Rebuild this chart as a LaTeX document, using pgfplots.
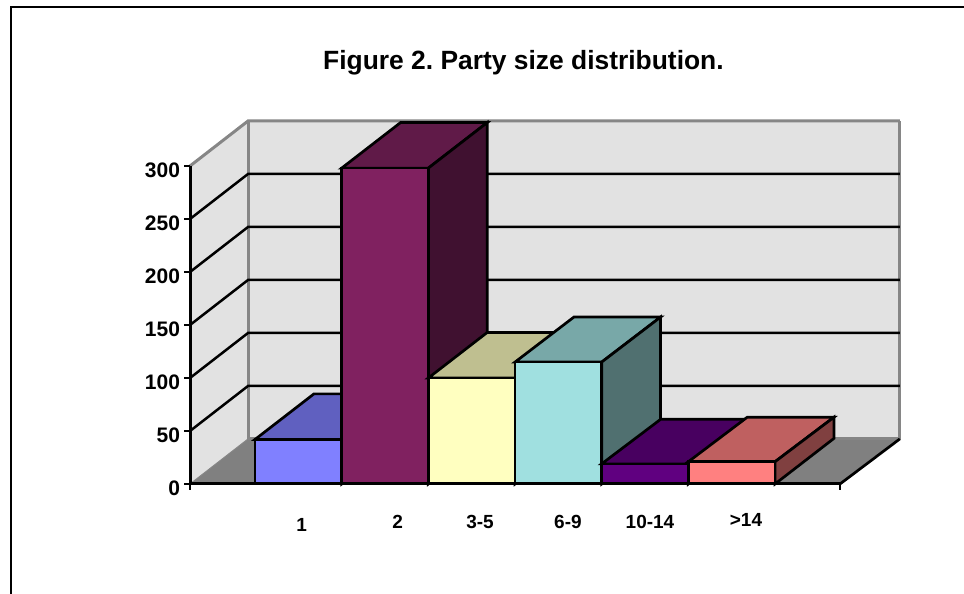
\documentclass[border=0pt]{standalone}
\usepackage{fontspec}
\setmainfont{Liberation Sans}
\usepackage{pgfplots}
\pgfplotsset{compat=1.18}

\definecolor{wall}{HTML}{E2E2E2}
\definecolor{floorgrey}{HTML}{808080}
\definecolor{edgegrey}{HTML}{868686}

\pgfplotsset{
  face/.style={draw=black, line width=2.7pt, line join=miter},
  guide/.style={draw=black, line width=2.5pt, unbounded coords=jump},
}

\begin{document}
\frenchspacing
\begin{tikzpicture}
  % Page area and outer chart frame
  \path[use as bounding box] (0pt,0pt) rectangle (964pt,594pt);
  \draw[black, line width=2.2pt] (11pt,-2pt) -- (11pt,587pt) -- (966pt,587pt);

  \begin{axis}[
    at={(190pt,110pt)}, anchor=south west,
    scale only axis, width=650pt, height=318pt,
    xmin=-1.25, xmax=6.25, ymin=0, ymax=300,
    enlargelimits=false, clip=false, axis on top,
    axis lines=left, axis line style={-, black, line width=3pt},
    xtick={-1.25,6.25},
    xticklabels={,},
    extra x ticks={0.039,1.146,2.096,3.111,4.058,5.165},
    extra x tick labels={\raisebox{-3pt}{1},2,3-5,6-9,10-14,\raisebox{1.5pt}{>14}},
    extra x tick style={
      major tick length=0pt,
      xticklabel style={anchor=base, yshift=-44.5pt, font=\fontsize{19}{19}\bfseries\selectfont},
    },
    ytick={0,50,100,150,200,250,300},
    ytick pos=left,
    xtick pos=bottom,
    tick align=outside,
    major tick style={draw=black, line width=2.7pt},
    major tick length=6pt,
    yticklabel style={yshift=-4.5pt, xshift=-0.5pt, font=\fontsize{21}{21}\bfseries\selectfont},
    /pgf/number format/assume math mode=true,
    title={Figure 2. Party size distribution.},
    title style={at={(0.513,1.305)}, anchor=center, font=\fontsize{26.4}{26}\bfseries\selectfont},
  ]
    % Side wall, back wall and floor
    \addplot[fill=wall, draw=none] coordinates {(-1.25,0) (-0.58,42.5) (-0.58,342.5) (-1.25,300)} --cycle;
    \addplot[fill=wall, draw=none] coordinates {(-0.58,42.5) (6.94,42.5) (6.94,342.5) (-0.58,342.5)} --cycle;
    \addplot[fill=floorgrey, draw=none] coordinates {(-1.25,0) (-0.58,42.5) (6.94,42.5) (6.25,0)} --cycle;
    \addplot[edgegrey, line width=3pt] coordinates {(-1.25,300) (-0.58,342.5) (6.94,342.5)};
    \addplot[edgegrey, line width=3pt] coordinates {(-0.58,342.5) (-0.58,42.5)};
    \addplot[edgegrey, line width=3pt] coordinates {(6.94,342.5) (6.94,42.5) (-0.58,42.5)};
    \addplot[edgegrey, line width=1pt] coordinates {(-1.25,0) (-0.58,42.5)};
    \addplot[black, line width=2.7pt] coordinates {(6.25,0) (6.94,42.5)};

    % Grid lines across both walls
    \addplot[guide] coordinates {
      (-1.25,50) (-0.58,92.5) (6.94,92.5) (6.94,nan)
      (-1.25,100) (-0.58,142.5) (6.94,142.5) (6.94,nan)
      (-1.25,150) (-0.58,192.5) (6.94,192.5) (6.94,nan)
      (-1.25,200) (-0.58,242.5) (6.94,242.5) (6.94,nan)
      (-1.25,250) (-0.58,292.5) (6.94,292.5)
    };

    % Bar 1
    \addplot[face, fill={rgb,255:red,96;green,96;blue,192}] coordinates {(-0.5,42) (0.5,42) (1.18,85) (0.18,85)} --cycle;
    \addplot[face, fill={rgb,255:red,64;green,64;blue,128}] coordinates {(0.5,0) (0.5,42) (1.18,85) (1.18,43)} --cycle;
    \addplot[face, ybar, bar width=1, bar shift=0pt, fill={rgb,255:red,128;green,128;blue,255}] coordinates {(0,42)};
    % Bar 2
    \addplot[face, fill={rgb,255:red,96;green,26;blue,72}] coordinates {(0.5,298) (1.5,298) (2.18,341) (1.18,341)} --cycle;
    \addplot[face, fill={rgb,255:red,64;green,17;blue,48}] coordinates {(1.5,0) (1.5,298) (2.18,341) (2.18,43)} --cycle;
    \addplot[face, ybar, bar width=1, bar shift=0pt, fill={rgb,255:red,128;green,33;blue,96}] coordinates {(1,298)};
    % Bar 3
    \addplot[face, fill={rgb,255:red,191;green,191;blue,144}] coordinates {(1.5,100) (2.5,100) (3.18,143) (2.18,143)} --cycle;
    \addplot[face, fill={rgb,255:red,128;green,128;blue,96}] coordinates {(2.5,0) (2.5,100) (3.18,143) (3.18,43)} --cycle;
    \addplot[face, ybar, bar width=1, bar shift=0pt, fill={rgb,255:red,255;green,255;blue,192}] coordinates {(2,100)};
    % Bar 4
    \addplot[face, fill={rgb,255:red,120;green,168;blue,168}] coordinates {(2.5,115) (3.5,115) (4.18,157.5) (3.18,157.5)} --cycle;
    \addplot[face, fill={rgb,255:red,80;green,112;blue,112}] coordinates {(3.5,0) (3.5,115) (4.18,157.5) (4.18,43)} --cycle;
    \addplot[face, ybar, bar width=1, bar shift=0pt, fill={rgb,255:red,160;green,224;blue,224}] coordinates {(3,115)};
    % Bar 5
    \addplot[face, fill={rgb,255:red,72;green,0;blue,96}] coordinates {(3.5,19) (4.5,19) (5.18,61) (4.18,61)} --cycle;
    \addplot[face, fill={rgb,255:red,48;green,0;blue,64}] coordinates {(4.5,0) (4.5,19) (5.18,61) (5.18,43)} --cycle;
    \addplot[face, ybar, bar width=1, bar shift=0pt, fill={rgb,255:red,96;green,0;blue,128}] coordinates {(4,19)};
    % Bar 6
    \addplot[face, fill={rgb,255:red,191;green,96;blue,96}] coordinates {(4.5,21) (5.5,21) (6.18,63) (5.18,63)} --cycle;
    \addplot[face, fill={rgb,255:red,128;green,64;blue,64}] coordinates {(5.5,0) (5.5,21) (6.18,63) (6.18,43)} --cycle;
    \addplot[face, ybar, bar width=1, bar shift=0pt, fill={rgb,255:red,255;green,128;blue,128}] coordinates {(5,21)};
  \end{axis}
\end{tikzpicture}
\end{document}
